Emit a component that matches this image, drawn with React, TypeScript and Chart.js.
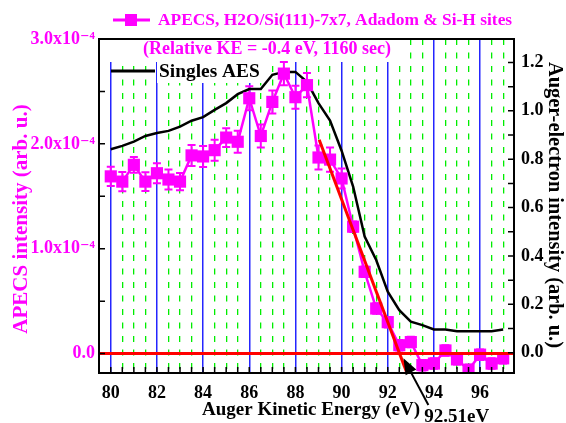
import React, { useEffect, useRef } from 'react';
import { Chart, registerables } from 'chart.js';

Chart.register(...registerables);

// ---------- data ----------
const energy = [80, 80.5, 81, 81.5, 82, 82.5, 83, 83.5, 84, 84.5, 85, 85.5, 86, 86.5, 87, 87.5, 88, 88.5, 89, 89.5, 90, 90.5, 91, 91.5, 92, 92.5, 93, 93.5, 94, 94.5, 95, 95.5, 96, 96.5, 97];
// APECS intensity in units of 1e-4
const apecs = [1.69, 1.64, 1.8, 1.64, 1.72, 1.66, 1.64, 1.89, 1.88, 1.94, 2.06, 2.02, 2.435, 2.075, 2.4, 2.67, 2.445, 2.56, 1.87, 1.85, 1.67, 1.21, 0.78, 0.43, 0.3, 0.08, 0.11, -0.11, -0.095, 0.03, -0.055, -0.155, -0.01, -0.095, -0.045];
const apecsErr = [0.092, 0.092, 0.075, 0.09, 0.095, 0.095, 0.083, 0.1, 0.1, 0.1, 0.09, 0.105, 0.115, 0.11, 0.11, 0.11, 0.11, 0.115, 0.115, 0.115, 0.095, 0.05, 0.05, 0.05, 0.05, 0.05, 0.05, 0.05, 0.05, 0.05, 0.05, 0.05, 0.05, 0.05, 0.05];
const aes = [0.841, 0.855, 0.873, 0.896, 0.908, 0.917, 0.935, 0.959, 0.974, 1.004, 1.032, 1.069, 1.09, 1.09, 1.149, 1.161, 1.161, 1.12, 1.032, 0.96, 0.835, 0.687, 0.48, 0.383, 0.252, 0.176, 0.128, 0.114, 0.096, 0.096, 0.089, 0.089, 0.089, 0.089, 0.096];
const fitEnergy = [89.03, 92.83];
const fitValue = [2.04, -0.185];
const zeroEnergy = [79.49, 97.47];
const zeroValue = [0, 0];
const onsetLabel = '92.51eV';
const arrowTip = [92.68, -0.045];
const arrowTail = [93.76, -0.49];

const xTickValues = [80, 82, 84, 86, 88, 90, 92, 94, 96];
const xTickLabels = ['80', '82', '84', '86', '88', '90', '92', '94', '96'];
const xGridStep = 0.5;
const leftTickValues = [0, 1, 2, 3];
const leftTickLabels = ['0.0', '1.0x10\u207B\u2074', '2.0x10\u207B\u2074', '3.0x10\u207B\u2074'];
const leftMinorStep = 0.5;
const rightTickValues = [0, 0.2, 0.4, 0.6, 0.8, 1.0, 1.2];
const rightTickLabels = ['0.0', '0.2', '0.4', '0.6', '0.8', '1.0', '1.2'];
const rightMinorStep = 0.1;

const legendMain = 'APECS, H2O/Si(111)-7x7, Adadom & Si-H sites';
const legendSub = '(Relative KE = -0.4 eV, 1160 sec)';
const legendAes = 'Singles AES';
const xTitle = 'Auger Kinetic Energy (eV)';
const yTitle = 'APECS intensity (arb. u.)';
const y1Title = 'Auger-electron intensity (arb. u.)';

// ---------- styles ----------
const FONT = '"Liberation Serif", "Times New Roman", "DejaVu Serif", serif';
const MAGENTA = '#ff00ff';
const RED = '#ff0000';
const BLUE = '#2525ff';
const GREEN = '#00ee00';

function range(a: number, b: number, s: number) {
  const out: number[] = [];
  for (let v = a; v <= b + 1e-9; v += s) out.push(Math.round(v * 1000) / 1000);
  return out;
}
const xGrid = range(80, 97, xGridStep);
const isMajorX = (v: number) => xTickValues.some((t) => Math.abs(t - v) < 1e-6);

const decor = {
  id: 'decor',
  beforeDatasetsDraw(chart: any) {
    const { ctx, chartArea: a, scales } = chart;
    ctx.save();
    ctx.fillStyle = '#ffffff';
    ctx.fillRect(a.left, a.top, 306, 23);
    ctx.fillRect(157, 62, 108, 21);
    // error bars
    const xs = scales.x;
    const ys = scales.y;
    ctx.beginPath();
    ctx.rect(a.left, a.top, a.width, a.height);
    ctx.clip();
    ctx.strokeStyle = MAGENTA;
    ctx.lineWidth = 2;
    energy.forEach((e, i) => {
      const px = xs.getPixelForValue(e);
      const top = ys.getPixelForValue(apecs[i] + apecsErr[i]);
      const bot = ys.getPixelForValue(apecs[i] - apecsErr[i]);
      ctx.beginPath();
      ctx.moveTo(px, top);
      ctx.lineTo(px, bot);
      ctx.moveTo(px - 4, top);
      ctx.lineTo(px + 4, top);
      ctx.moveTo(px - 4, bot);
      ctx.lineTo(px + 4, bot);
      ctx.stroke();
    });
    ctx.restore();
  },
  afterDraw(chart: any) {
    const { ctx, chartArea: a, scales } = chart;
    const xs = scales.x;
    const ys = scales.y;
    const y1 = scales.y1;
    ctx.save();
    // frame
    ctx.strokeStyle = '#000';
    ctx.lineWidth = 2;
    ctx.strokeRect(a.left, a.top, a.width, a.height);
    // inside ticks
    ctx.lineWidth = 1.5;
    ctx.beginPath();
    xGrid.forEach((v) => {
      const px = xs.getPixelForValue(v);
      ctx.moveTo(px, a.bottom);
      ctx.lineTo(px, a.bottom - 6);
    });
    range(0, 3, leftMinorStep).forEach((v) => {
      const py = ys.getPixelForValue(v);
      ctx.moveTo(a.left, py);
      ctx.lineTo(a.left + 6, py);
    });
    range(0, 1.2, rightMinorStep).forEach((v) => {
      const py = y1.getPixelForValue(v);
      ctx.moveTo(a.right, py);
      ctx.lineTo(a.right - 6, py);
    });
    ctx.stroke();

    // axis titles
    ctx.textAlign = 'center';
    ctx.textBaseline = 'middle';
    ctx.fillStyle = '#000';
    ctx.font = `bold 19px ${FONT}`;
    ctx.fillText(xTitle, 311, 410);
    ctx.save();
    ctx.translate(22, 219);
    ctx.rotate(-Math.PI / 2);
    ctx.fillStyle = MAGENTA;
    ctx.font = `bold 21px ${FONT}`;
    ctx.fillText(yTitle, 0, 0);
    ctx.restore();
    ctx.save();
    ctx.translate(554, 205);
    ctx.rotate(Math.PI / 2);
    ctx.fillStyle = '#000';
    ctx.font = `bold 20.4px ${FONT}`;
    ctx.fillText(y1Title, 0, 0);
    ctx.restore();

    // legend: APECS
    ctx.textAlign = 'left';
    ctx.strokeStyle = MAGENTA;
    ctx.lineWidth = 3;
    ctx.beginPath();
    ctx.moveTo(113, 20);
    ctx.lineTo(150, 20);
    ctx.stroke();
    ctx.fillStyle = MAGENTA;
    ctx.fillRect(125, 14, 12, 12);
    ctx.font = `bold 17.4px ${FONT}`;
    ctx.textBaseline = 'middle';
    ctx.fillText(legendMain, 158, 21);
    ctx.font = `bold 18px ${FONT}`;
    ctx.fillText(legendSub, 143, 49);

    // legend: AES
    ctx.strokeStyle = '#000';
    ctx.lineWidth = 3;
    ctx.beginPath();
    ctx.moveTo(111, 71);
    ctx.lineTo(155, 71);
    ctx.stroke();
    ctx.fillStyle = '#000';
    ctx.font = `bold 19.4px ${FONT}`;
    ctx.fillText(legendAes, 159, 72);

    // arrow
    const tx = xs.getPixelForValue(arrowTip[0]);
    const ty = ys.getPixelForValue(arrowTip[1]);
    const sx = xs.getPixelForValue(arrowTail[0]);
    const sy = ys.getPixelForValue(arrowTail[1]);
    const ang = Math.atan2(ty - sy, tx - sx);
    ctx.lineWidth = 2;
    ctx.beginPath();
    ctx.moveTo(sx, sy);
    ctx.lineTo(tx - Math.cos(ang) * 10, ty - Math.sin(ang) * 10);
    ctx.stroke();
    ctx.beginPath();
    ctx.moveTo(tx, ty);
    ctx.lineTo(tx - Math.cos(ang) * 16 + Math.sin(ang) * 6, ty - Math.sin(ang) * 16 - Math.cos(ang) * 6);
    ctx.lineTo(tx - Math.cos(ang) * 16 - Math.sin(ang) * 6, ty - Math.sin(ang) * 16 + Math.cos(ang) * 6);
    ctx.closePath();
    ctx.fill();
    ctx.font = `bold 19px ${FONT}`;
    ctx.textBaseline = 'alphabetic';
    ctx.fillText(onsetLabel, sx - 4, sy + 17);
    ctx.restore();
  },
};

export default function App() {
  const ref = useRef<HTMLCanvasElement>(null);
  useEffect(() => {
    const chart = new Chart(ref.current as HTMLCanvasElement, {
      type: 'line',
      data: {
        datasets: [
          {
            label: 'zero',
            data: zeroEnergy.map((x, i) => ({ x, y: zeroValue[i] })),
            yAxisID: 'y',
            borderColor: RED,
            borderWidth: 3,
            pointRadius: 0,
            order: 0,
          },
          {
            label: 'fit',
            data: fitEnergy.map((x, i) => ({ x, y: fitValue[i] })),
            yAxisID: 'y',
            borderColor: RED,
            borderWidth: 3,
            pointRadius: 0,
            order: 1,
          },
          {
            label: legendMain,
            data: energy.map((x, i) => ({ x, y: apecs[i] })),
            yAxisID: 'y',
            borderColor: MAGENTA,
            backgroundColor: MAGENTA,
            borderWidth: 2.5,
            pointStyle: 'rect',
            pointRadius: 8.6,
            pointBorderWidth: 0,
            pointBackgroundColor: MAGENTA,
            order: 2,
          },
          {
            label: legendAes,
            data: energy.map((x, i) => ({ x, y: aes[i] })),
            yAxisID: 'y1',
            borderColor: '#000',
            borderWidth: 2.5,
            pointRadius: 0,
            order: 3,
          },
        ],
      },
      options: {
        responsive: false,
        maintainAspectRatio: false,
        animation: false,
        layout: { padding: { top: 39, left: 0, right: 0, bottom: 0 } },
        plugins: { legend: { display: false }, tooltip: { enabled: false }, title: { display: false } },
        elements: { line: { tension: 0 } },
        scales: {
          x: {
            type: 'linear',
            position: 'bottom',
            min: 79.49,
            max: 97.47,
            afterBuildTicks: (s: any) => {
              s.ticks = xGrid.map((v) => ({ value: v }));
            },
            afterFit: (s: any) => {
              s.height = 50;
            },
            ticks: {
              autoSkip: false,
              maxRotation: 0,
              minRotation: 0,
              padding: 10,
              color: '#000',
              font: { family: FONT, size: 18, weight: 'bold' },
              callback: (v: any) => {
                const i = xTickValues.findIndex((t) => Math.abs(t - v) < 1e-6);
                return i >= 0 ? xTickLabels[i] : '';
              },
            },
            grid: {
              display: true,
              drawTicks: false,
              color: (c: any) => (c.tick && isMajorX(c.tick.value) ? BLUE : GREEN),
              lineWidth: (c: any) => (c.tick && isMajorX(c.tick.value) ? 1.5 : 1.3),
            },
            border: {
              display: false,
              dash: (c: any) => (c.tick && !isMajorX(c.tick.value) ? [6, 7.5] : []),
            },
            title: { display: false },
          },
          y: {
            type: 'linear',
            position: 'left',
            min: -0.185,
            max: 3.0,
            afterBuildTicks: (s: any) => {
              s.ticks = leftTickValues.map((v) => ({ value: v }));
            },
            afterFit: (s: any) => {
              s.width = 99;
            },
            ticks: {
              padding: 4,
              color: MAGENTA,
              font: { family: FONT, size: 18, weight: 'bold' },
              callback: (v: any) => {
                const i = leftTickValues.findIndex((t) => Math.abs(t - v) < 1e-6);
                return i >= 0 ? leftTickLabels[i] : '';
              },
            },
            grid: { display: false, drawTicks: false },
            border: { display: false },
            title: { display: false },
          },
          y1: {
            type: 'linear',
            position: 'right',
            min: -0.084,
            max: 1.297,
            afterBuildTicks: (s: any) => {
              s.ticks = rightTickValues.map((v) => ({ value: v }));
            },
            afterFit: (s: any) => {
              s.width = 52;
            },
            ticks: {
              padding: 7,
              color: '#000',
              font: { family: FONT, size: 18, weight: 'bold' },
              callback: (v: any) => {
                const i = rightTickValues.findIndex((t) => Math.abs(t - v) < 1e-6);
                return i >= 0 ? rightTickLabels[i] : '';
              },
            },
            grid: { display: false, drawTicks: false },
            border: { display: false },
            title: { display: false },
          },
        },
      },
      plugins: [decor],
    } as any);
    return () => chart.destroy();
  }, []);
  return (
    <div style={{ position: 'absolute', left: 0, top: 0, width: 566, height: 423, background: '#fff' }}>
      <canvas ref={ref} width={566} height={423} style={{ display: 'block', width: 566, height: 423 }} />
    </div>
  );
}
